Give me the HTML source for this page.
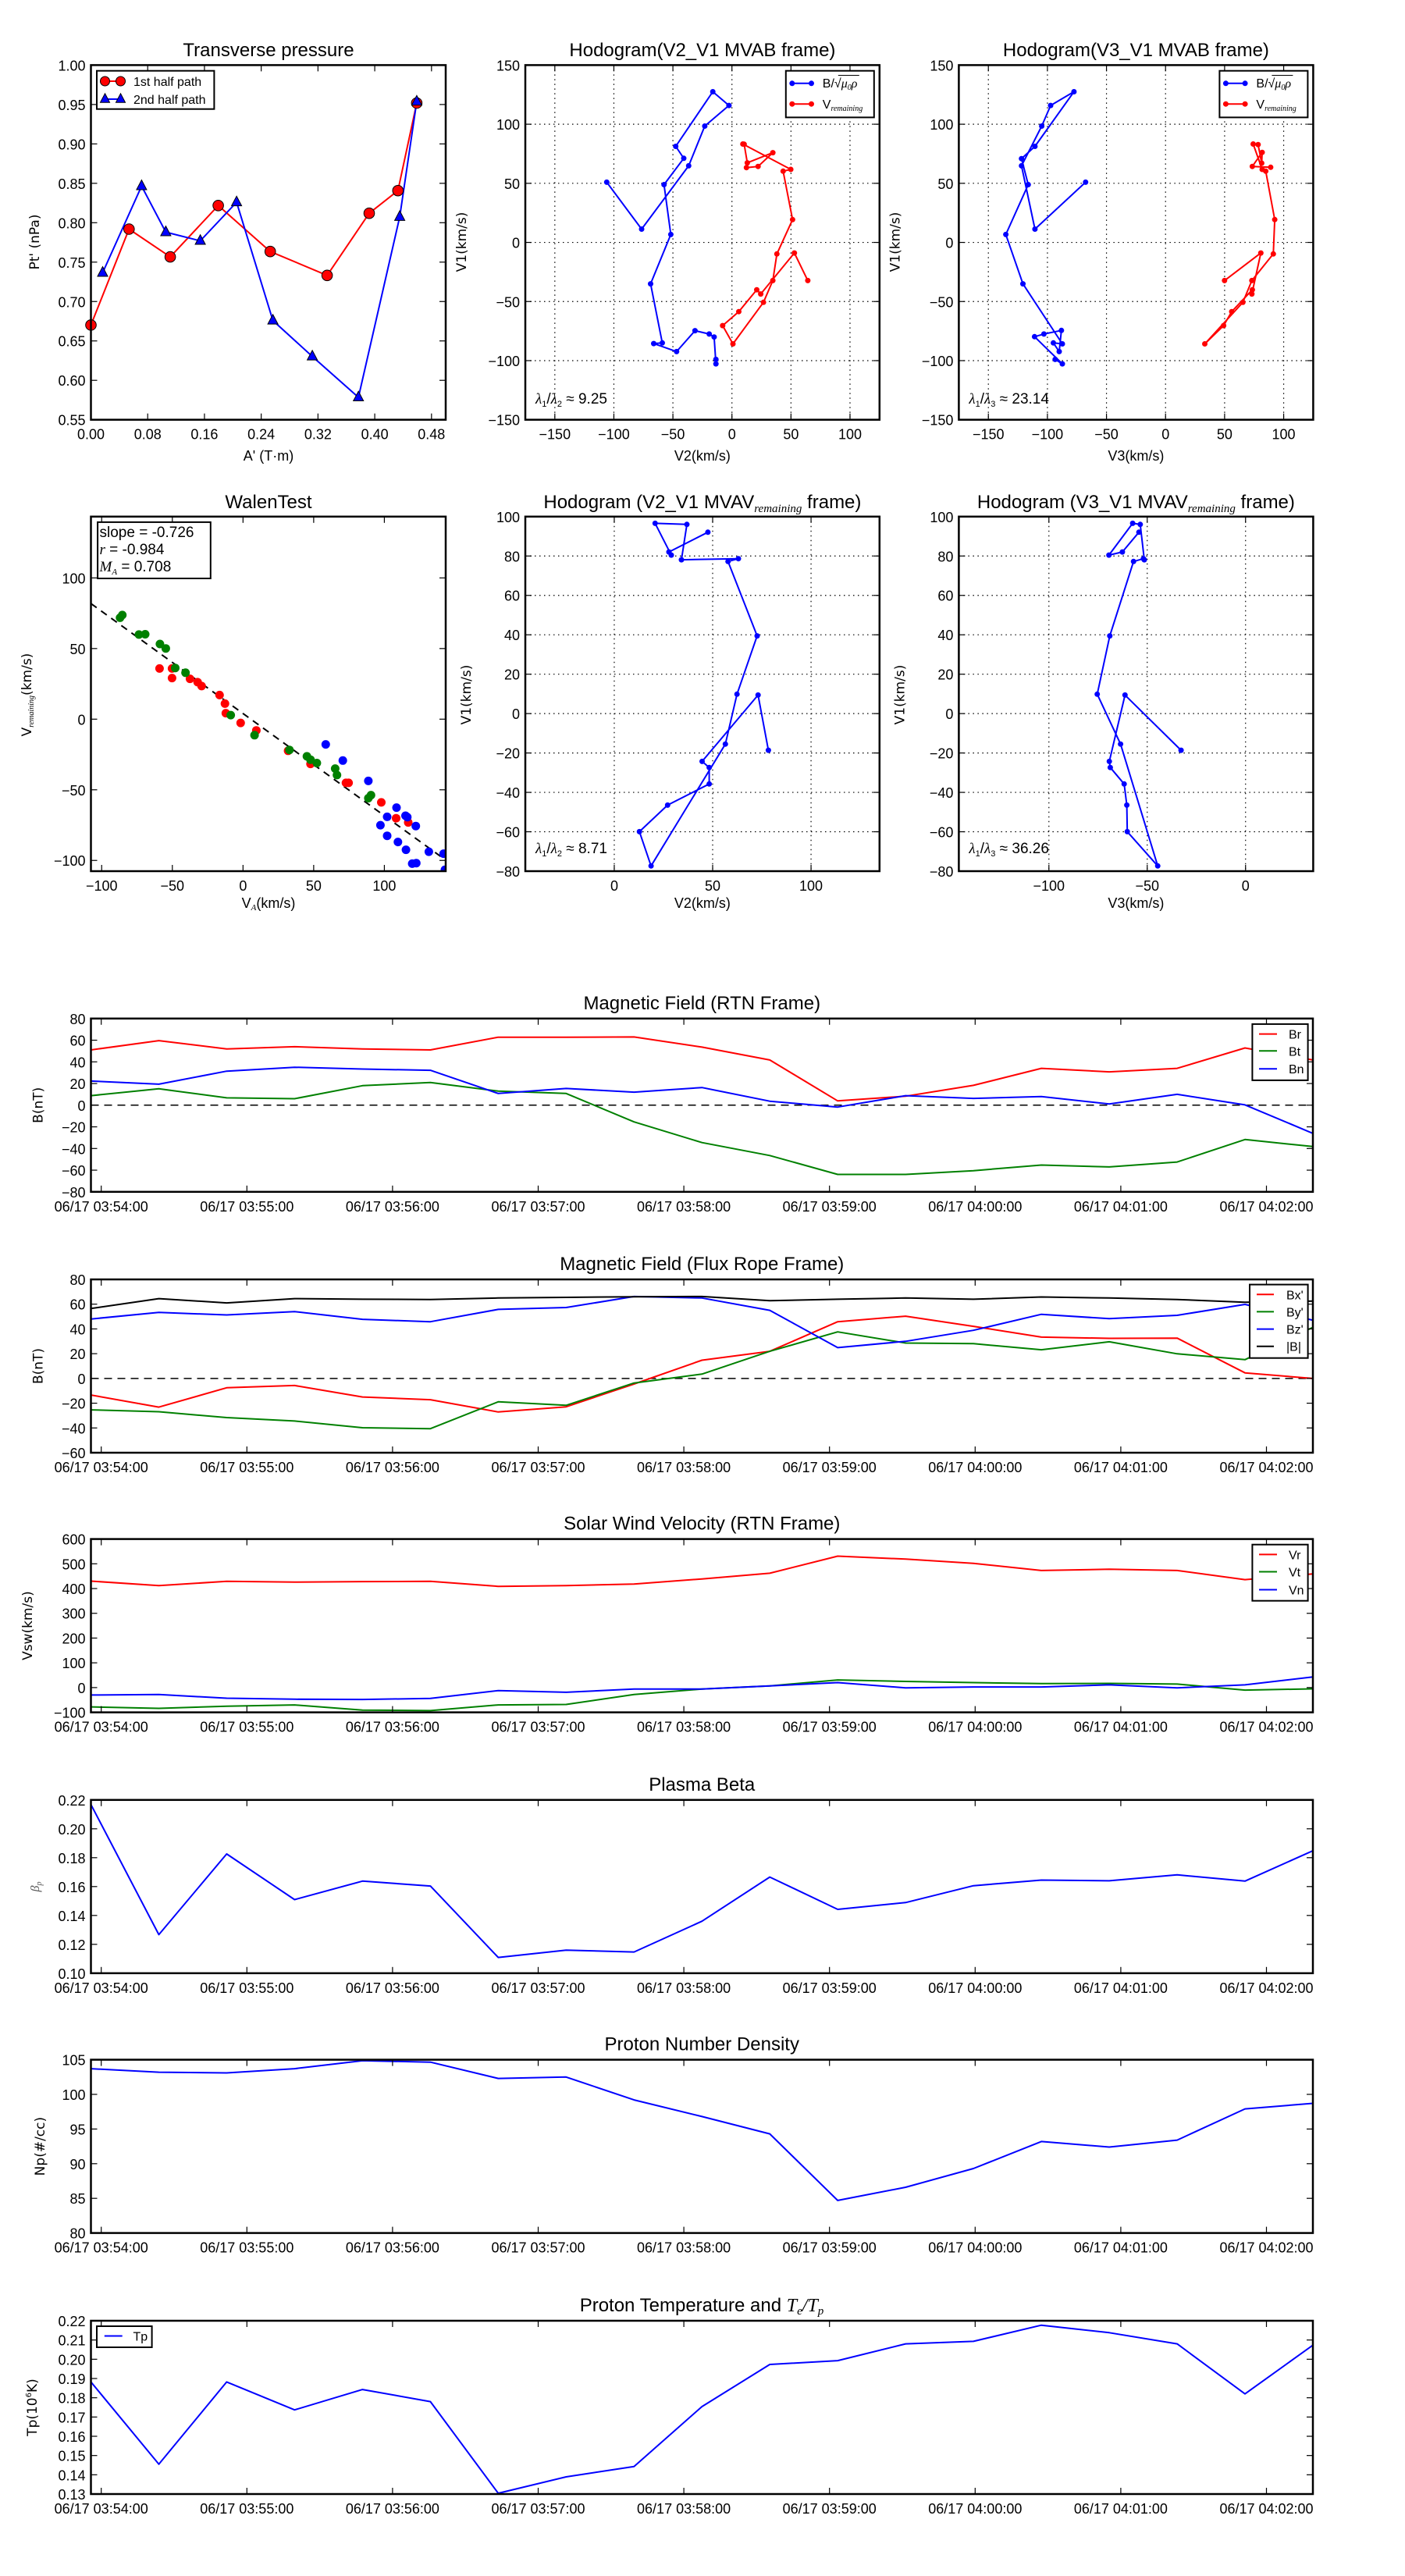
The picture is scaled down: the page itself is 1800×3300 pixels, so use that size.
<!DOCTYPE html>
<html><head><meta charset="utf-8"><style>body{margin:0;background:#fff}svg{display:block}</style></head>
<body>
<svg id="s" xmlns="http://www.w3.org/2000/svg" width="1800" height="3300" viewBox="0 0 1800 3300" font-family="Liberation Sans, sans-serif"></svg>
<script>
let o='';
const MINUS='\u2212';
function fmt(v,d){let s=v.toFixed(d);if(v<0)s=MINUS+s.slice(1);return s;}
function t(x,y,s,sz,anc,extra){o+=`<text x="${x}" y="${y}" font-size="${sz}" text-anchor="${anc||'middle'}" ${extra||''}>${s}</text>`;}
function pl(pts,col,w,extra){o+=`<polyline points="${pts.map(p=>p[0].toFixed(1)+','+p[1].toFixed(1)).join(' ')}" fill="none" stroke="${col}" stroke-width="${w||2}" stroke-linejoin="round" ${extra||''}/>`;}
function dot(x,y,r,f,s){o+=`<circle cx="${x.toFixed(1)}" cy="${y.toFixed(1)}" r="${r}" fill="${f}" ${s?'stroke="'+s+'" stroke-width="1"':''}/>`;}
function tri(x,y,r,f){o+=`<polygon points="${x},${y-r*1.2} ${x-r},${y+r*0.7} ${x+r},${y+r*0.7}" fill="${f}" stroke="#000" stroke-width="1"/>`;}
function Ax(L,T,R,B,x0,x1,y0,y1){return {L,T,R,B,X:v=>L+(v-x0)/(x1-x0)*(R-L),Y:v=>B-(v-y0)/(y1-y0)*(B-T)};}
function grid(a,xt,yt){
 xt.forEach(v=>{const x=a.X(v);o+=`<line x1="${x}" y1="${a.T}" x2="${x}" y2="${a.B}" stroke="#000" stroke-width="1.2" stroke-dasharray="1.5 4.5"/>`});
 yt.forEach(v=>{const y=a.Y(v);o+=`<line x1="${a.L}" y1="${y}" x2="${a.R}" y2="${y}" stroke="#000" stroke-width="1.2" stroke-dasharray="1.5 4.5"/>`});
}
function frame(a,xt,xl,yt,yl){
 xt.forEach((v,i)=>{const x=a.X(v);o+=`<line x1="${x}" y1="${a.B}" x2="${x}" y2="${a.B-8}" stroke="#000" stroke-width="1.2"/><line x1="${x}" y1="${a.T}" x2="${x}" y2="${a.T+8}" stroke="#000" stroke-width="1.2"/>`;t(x,a.B+25,xl[i],18);});
 yt.forEach((v,i)=>{const y=a.Y(v);o+=`<line x1="${a.L}" y1="${y}" x2="${a.L+8}" y2="${y}" stroke="#000" stroke-width="1.2"/><line x1="${a.R}" y1="${y}" x2="${a.R-8}" y2="${y}" stroke="#000" stroke-width="1.2"/>`;t(a.L-7,y+7,yl[i],18,'end');});
 o+=`<rect x="${a.L}" y="${a.T}" width="${a.R-a.L}" height="${a.B-a.T}" fill="none" stroke="#000" stroke-width="2.5"/>`;
}
function rng(a,b,s){const r=[];for(let v=a;v<=b+1e-9;v+=s)r.push(+v.toFixed(6));return r;}
function ylab(x,y,s,sz){o+=`<text x="${x}" y="${y}" font-size="${sz||17}" text-anchor="middle" font-family="DejaVu Sans, sans-serif" transform="rotate(-90 ${x} ${y})">${s}</text>`;}

// ===== Plot 1: Transverse pressure
let a=Ax(116.5,83.4,571,537.7,0,0.5,0.55,1.0);
let xt=rng(0,0.48,0.08), yt=rng(0.55,1.0,0.05);
const r1=[[116.5,416.4],[165.3,293.5],[218.1,329.1],[279.6,263.3],[346.2,322.2],[419.1,352.8],[473,273.2],[509.8,244.2],[533.9,132]];
const b1=[[131.5,349.4],[181.4,238.4],[212.4,297.4],[256.6,308.5],[303.1,259.1],[349.6,410.6],[400.1,456.6],[459.2,509],[512.1,277.8],[533.9,130.1]];
pl(r1,'#f00',2);pl(b1,'#00f',2);
r1.forEach(p=>dot(p[0],p[1],6.8,'#f00','#000'));
b1.forEach(p=>tri(p[0],p[1],6.5,'#00f'));
frame(a,xt,xt.map(v=>v.toFixed(2)),yt,yt.map(v=>v.toFixed(2)));
t(344,72,'Transverse pressure',24);
t(344,590,"A' (T·m)",18);
ylab(50,310,"Pt' (nPa)");
o+=`<rect x="124" y="90.7" width="150.4" height="49" fill="#fff" stroke="#000" stroke-width="2"/>`;
pl([[134.5,104],[154.5,104]],'#f00',2);dot(134.5,104,6,'#f00','#000');dot(154.5,104,6,'#f00','#000');
t(171,110,'1st half path',16,'start');
pl([[134.5,127],[154.5,127]],'#00f',2);tri(134.5,127,6,'#00f');tri(154.5,127,6,'#00f');
t(171,133,'2nd half path',16,'start');

// ===== Hodogram row1
function hodoLegend(x0){
 o+=`<rect x="${x0}" y="90.7" width="113" height="59.7" fill="#fff" stroke="#000" stroke-width="2"/>`;
 pl([[x0+8,106.8],[x0+32.7,106.8]],'#00f',2);dot(x0+8,106.8,3.5,'#00f');dot(x0+32.7,106.8,3.5,'#00f');
 o+=`<text x="${x0+47}" y="112" font-size="16">B/√<tspan font-style="italic" font-family="Liberation Serif, serif">μ<tspan font-size="10" dy="3">0</tspan><tspan dy="-3">ρ</tspan></tspan></text>`;
 o+=`<line x1="${x0+67}" y1="96.5" x2="${x0+94}" y2="96.5" stroke="#000" stroke-width="1"/>`;
 pl([[x0+8,133.2],[x0+32.7,133.2]],'#f00',2);dot(x0+8,133.2,3.5,'#f00');dot(x0+32.7,133.2,3.5,'#f00');
 o+=`<text x="${x0+47}" y="139" font-size="16">V<tspan font-size="10" font-style="italic" font-family="Liberation Serif, serif" dy="3">remaining</tspan></text>`;
}
function lam(x,y,sub,val){o+=`<text x="${x}" y="${y}" font-size="19"><tspan font-style="italic" font-family="Liberation Serif, serif">λ</tspan><tspan font-size="11" dy="4">1</tspan><tspan dy="-4">/</tspan><tspan font-style="italic" font-family="Liberation Serif, serif">λ</tspan><tspan font-size="11" dy="4">${sub}</tspan><tspan dy="-4"> ≈ ${val}</tspan></text>`;}
const bV2=[[777.3,233.4],[822.0,293.5],[882.3,212.4],[902.9,161.5],[933.9,135.1],[913.2,117.5],[865.7,187.5],[876.0,202.8],[850.7,236.5],[859.4,300.4],[833.5,363.6],[848.5,439.3],[837.5,440.1],[866.8,450.4],[890.4,423.6],[908.6,427.9],[914.9,431.7],[917.2,466.1],[917.2,460.4]];
const bV3=[[1390.8,233.4],[1325.9,293.5],[1308.7,212.4],[1334.6,161.5],[1346,135.1],[1375.9,117.5],[1325.9,187.5],[1308.7,203.2],[1317.3,236.5],[1288.6,300.4],[1310.5,363.6],[1361,440.5],[1349.5,439.3],[1357,450.4],[1359.8,423.3],[1337.4,427.9],[1325.4,431.3],[1361,466.1],[1351.8,460.4]];
const rV2d=[[235,939],[205,847],[130,984],[121,970],[81,1043],[45,1090],[68,1151],[136,1012],[157,939],[166,850],[201,735],[180,573],[197,567],[90,482],[93,483],[100,545],[157,511],[124,557],[98,561]];
const rV3d=[[1165,939],[1246,847],[1226,984],[1227,970],[1181,1043],[1163,1090],[1121,1151],[1206,1012],[1226,939],[1274,850],[1277,735],[1257,573],[1249,567],[1229,482],[1240,484],[1248,546],[1249,510],[1227,557],[1268,560]];
const z2=p=>[900+p[0]/1.742,p[1]/2.613];
const rV2=rV2d.map(z2), rV3=rV3d.map(z2);
[[673,1126.8,bV2,rV2,'V2(km/s)','Hodogram(V2_V1 MVAB frame)','2','9.25'],[1228.4,1682.4,bV3,rV3,'V3(km/s)','Hodogram(V3_V1 MVAB frame)','3','23.14']].forEach(c=>{
 const A=Ax(c[0],83.4,c[1],537.7,-175,125,-150,150);
 const xt=rng(-150,100,50), yt=rng(-150,150,50);
 grid(A,xt,yt);
 pl(c[2],'#00f',2);c[2].forEach(p=>dot(p[0],p[1],3.5,'#00f'));
 pl(c[3],'#f00',2);c[3].forEach(p=>dot(p[0],p[1],3.5,'#f00'));
 frame(A,xt,xt.map(v=>fmt(v,0)),yt,yt.map(v=>fmt(v,0)));
 t((c[0]+c[1])/2,72,c[5],24);
 t((c[0]+c[1])/2,590,c[4],18);
 ylab(c[0]-76,310,'V1(km/s)');
 hodoLegend(c[1]-120);
 lam(c[0]+13,517,c[6],c[7]);
});

// ===== Walen test
a=Ax(116.5,661.8,571,1116,-107.6,143.4,-107.6,143.4);
const z3=p=>[p[0]/1.742,600+p[1]/2.8];
pl([[116.5,773.2],[571,1101.8]],'#000',2,'stroke-dasharray="9 7"');
const red=[[356,718],[384,718],[384,752],[424,755],[441,767],[450,781],[490,813],[502,844],[504,878],[537,913],[572,940],[643,1013],[693,1060],[772,1128],[778,1128],[851,1198],[884,1255],[911,1270]];
const grn=[[268,536],[273,526],[310,596],[324,595],[357,630],[370,646],[391,716],[414,733],[515,885],[568,957],[646,1010],[685,1033],[693,1045],[707,1057],[748,1077],[752,1100],[822,1183],[828,1172]];
const blu=[[727,990],[765,1048],[822,1121],[849,1280],[864,1250],[864,1318],[885,1217],[888,1340],[905,1246],[909,1251],[906,1368],[928,1283],[920,1418],[929,1416],[957,1375],[990,1382],[993,1440]];
o+=`<clipPath id="cw"><rect x="116.5" y="661.8" width="454.5" height="454.2"/></clipPath><g clip-path="url(#cw)">`;
red.forEach(p=>{const q=z3(p);dot(q[0],q[1],5.5,'#f00');});
grn.forEach(p=>{const q=z3(p);dot(q[0],q[1],5.5,'#008000');});
blu.forEach(p=>{const q=z3(p);dot(q[0],q[1],5.5,'#00f');});
o+='</g>';
xt=[-100,-50,0,50,100];
frame(a,xt,xt.map(v=>fmt(v,0)),xt,xt.map(v=>fmt(v,0)));
t(344,651,'WalenTest',24);
o+=`<text x="344" y="1163" font-size="18" text-anchor="middle">V<tspan font-size="11" font-style="italic" font-family="Liberation Serif, serif" dy="3">A</tspan><tspan dy="-3">(km/s)</tspan></text>`;
o+=`<text x="40" y="890" font-size="17" text-anchor="middle" font-family="DejaVu Sans, sans-serif" transform="rotate(-90 40 890)">V<tspan font-size="10" font-style="italic" font-family="Liberation Serif, serif" dy="3">remaining</tspan><tspan dy="-3">(km/s)</tspan></text>`;
o+=`<rect x="125.1" y="668.9" width="144.7" height="72.1" fill="#fff" stroke="#000" stroke-width="2"/>`;
t(127.5,688,'slope = -0.726',19,'start');
o+=`<text x="127.5" y="710" font-size="19"><tspan font-style="italic" font-family="Liberation Serif, serif">r</tspan> = -0.984</text>`;
o+=`<text x="127.5" y="732" font-size="19"><tspan font-style="italic" font-family="Liberation Serif, serif">M<tspan font-size="11" dy="4">A</tspan></tspan><tspan dy="-4"> = 0.708</tspan></text>`;

// ===== Hodogram row2
const b3d=[[1068,1011],[943,813],[908,1051],[910,1073],[941,1132],[947,1208],[948,1303],[1016,1426],[933,989],[881,810],[909,601],[962,334],[984,324],[986,328],[977,201],[960,197],[907,311],[937,300],[974,229]];
const v2x=[984.4,971.2,899.5,908.6,908.6,855.3,819.2,834.1,929.3,944.2,970,932.7,946,873,880,839.3,860,857,906.9];
const b3=b3d.map(p=>[900+p[0]/1.742,600+p[1]/2.8]);
const b2=b3d.map((p,i)=>[v2x[i],600+p[1]/2.8]);
[[673,1126.8,-45.2,134.8,b2,[0,50,100],'V2(km/s)','Hodogram (V2_V1 MVAV','2','8.71'],[1228.4,1682.4,-145.8,34.4,b3,[-100,-50,0],'V3(km/s)','Hodogram (V3_V1 MVAV','3','36.26']].forEach(c=>{
 const A=Ax(c[0],661.8,c[1],1116,c[2],c[3],-80,100);
 const yt=rng(-80,100,20);
 grid(A,c[5],yt);
 pl(c[4],'#00f',2);c[4].forEach(p=>dot(p[0],p[1],3.5,'#00f'));
 frame(A,c[5],c[5].map(v=>fmt(v,0)),yt,yt.map(v=>fmt(v,0)));
 o+=`<text x="${(c[0]+c[1])/2}" y="651" font-size="24" text-anchor="middle">${c[7]}<tspan font-size="15" font-style="italic" font-family="Liberation Serif, serif" dy="5">remaining</tspan><tspan dy="-5"> frame)</tspan></text>`;
 t((c[0]+c[1])/2,1163,c[6],18);
 ylab(c[0]-70,890,'V1(km/s)');
 lam(c[0]+13,1093,c[8],c[9]);
});

// ===== Time series
const tops=[1304.8,1639,1971.6,2305.8,2638.6,2973];
const TL=116.5,TR=1682,TH=222;
const xi=i=>TL+i*(TR-TL)/18;
const tt=[],tl=[];
['03:54:00','03:55:00','03:56:00','03:57:00','03:58:00','03:59:00','04:00:00','04:01:00','04:02:00'].forEach((s,i)=>{tt.push(129.7+i*186.6);tl.push('06/17 '+s);});
function ts(k,y0,y1,yst,dec,series,title,ylabel,ylx,zero){
 const T=tops[k],B=T+TH;
 const A=Ax(TL,T,TR,B,0,1,y0,y1);
 A.X=v=>v;
 if(zero){const y=A.Y(0);o+=`<line x1="${TL}" y1="${y}" x2="${TR}" y2="${y}" stroke="#000" stroke-width="1.5" stroke-dasharray="10 7"/>`;}
 o+=`<clipPath id="c${k}"><rect x="${TL}" y="${T}" width="${TR-TL}" height="${TH}"/></clipPath><g clip-path="url(#c${k})">`;
 series.forEach(s=>pl(s[0].map((v,i)=>[xi(i),A.Y(v)]),s[1],2));
 o+='</g>';
 const yt=rng(y0,y1,yst);
 frame(A,tt,tl,yt,yt.map(v=>fmt(v,dec)));
 t((TL+TR)/2,T-12,title,24);
 ylab(ylx,T+TH/2,ylabel);
 return T;
}
const Br=[51,59.6,52,54,52,51,62.8,62.8,63,53.6,41.7,4,8.3,18.3,34,30.8,34,52.8,41.7];
const Bt=[8.8,15.1,6.8,6,18,21,13,10.8,-15.4,-34.5,-46.5,-63.9,-63.9,-60.5,-55.3,-57,-52.5,-31.7,-38.2];
const Bn=[22.3,19.4,31.4,35,33.4,32.2,10.8,15.4,12,16.3,3.7,-1.7,8.8,6.3,8,1.1,10,0.3,-26];
ts(0,-80,80,20,0,[[Br,'#f00'],[Bt,'#008000'],[Bn,'#00f']],'Magnetic Field (RTN Frame)','B(nT)',54.5,true);
function tsLeg(x0,y0,w,h,items,lx1,lx2,tx){
 o+=`<rect x="${x0}" y="${y0}" width="${w}" height="${h}" fill="#fff" stroke="#000" stroke-width="2"/>`;
 items.forEach(it=>{pl([[lx1,it[0]],[lx2,it[0]]],it[1],2);t(tx,it[0]+6,it[2],16,'start');});
}
tsLeg(1604.4,1311.9,71.2,72,[[1324.6,'#f00','Br'],[1346.3,'#008000','Bt'],[1369.2,'#00f','Bn']],1613,1636,1651);
const Bx=[-13.4,-23.2,-7.5,-5.7,-15,-17.2,-27.1,-22.9,-4.5,14.7,21.9,45.8,50.3,42.1,33.4,32.4,32.6,4.5,0];
const By=[-25.4,-26.9,-31.6,-34.4,-39.8,-40.6,-18.9,-21.7,-3.7,3.5,21.9,37.6,28.6,28.1,23.2,29.6,19.9,15.2,41.3];
const Bz=[48,53.3,51.3,54,47.8,45.8,55.8,57.3,66.2,65,55,24.9,30,38.9,51.8,48.3,51,59.8,47];
const Bm=[56.5,64.5,61,64.5,64,63.8,65,65.5,66,66.2,62.8,64,65,64,65.8,65,63.8,61.5,62.5];
ts(1,-60,80,20,0,[[Bx,'#f00'],[By,'#008000'],[Bz,'#00f'],[Bm,'#000']],'Magnetic Field (Flux Rope Frame)','B(nT)',54.5,true);
tsLeg(1601,1645.6,74.6,94.1,[[1658.3,'#f00',"Bx'"],[1680.4,'#008000',"By'"],[1702.6,'#00f',"Bz'"],[1724.7,'#000','|B|']],1610,1632,1648);
const Vr=[430,412,429,426,428,429,409,412,418,439,462,531,519,502,473,478,473,436,459];
const Vt=[-78,-84,-75,-70,-91,-93,-70,-68,-28,-6,7,31,25,20,16,17,14,-10,-5];
const Vn=[-30,-28,-43,-47,-48,-44,-12,-19,-6,-6,7,20,-1,2.5,2.5,11,-1,11,43];
ts(2,-100,600,100,0,[[Vr,'#f00'],[Vt,'#008000'],[Vn,'#00f']],'Solar Wind Velocity (RTN Frame)','Vsw(km/s)',41,false);
tsLeg(1604.4,1978.7,71.2,72,[[1991.4,'#f00','Vr'],[2013.5,'#008000','Vt'],[2036.5,'#00f','Vn']],1613,1636,1651);
const beta=[0.2168,0.1267,0.1826,0.151,0.1638,0.1604,0.1109,0.116,0.1147,0.136,0.1666,0.1442,0.1489,0.1606,0.1645,0.164,0.1681,0.1638,0.1848];
ts(3,0.10,0.22,0.02,2,[[beta,'#00f']],'Plasma Beta','',50,false);
o+=`<text x="50" y="2417" font-size="16" font-style="italic" fill="#555" font-family="Liberation Serif, serif" text-anchor="middle" transform="rotate(-90 50 2417)">β<tspan font-size="10" dy="3">p</tspan></text>`;
const Np=[103.7,103.2,103.1,103.7,104.85,104.65,102.3,102.5,99.2,96.8,94.3,84.7,86.6,89.3,93.2,92.4,93.4,97.9,98.7];
ts(4,80,105,5,0,[[Np,'#00f']],'Proton Number Density','Np(#/cc)',57,false);
const Tp=[0.1882,0.1455,0.1882,0.1737,0.1843,0.178,0.1304,0.1389,0.1443,0.1754,0.1973,0.1993,0.208,0.2093,0.2177,0.2138,0.208,0.182,0.2073];
ts(5,0.13,0.22,0.01,2,[[Tp,'#00f']],'','',47,false);
o+=`<text x="899" y="2961" font-size="24" text-anchor="middle">Proton Temperature and <tspan font-style="italic" font-family="Liberation Serif, serif">T<tspan font-size="15" dy="4">e</tspan><tspan dy="-4">/T</tspan><tspan font-size="15" dy="4">p</tspan></tspan></text>`;
o+=`<text x="47" y="3084" font-size="17" text-anchor="middle" font-family="DejaVu Sans, sans-serif" transform="rotate(-90 47 3084)">Tp(10<tspan font-size="10" dy="-7">6</tspan><tspan dy="7">K)</tspan></text>`;
tsLeg(124,2980,70.6,27,[[2992.5,'#00f','Tp']],133.8,156.7,170.5);

document.getElementById('s').innerHTML=o;
</script>
</body></html>
